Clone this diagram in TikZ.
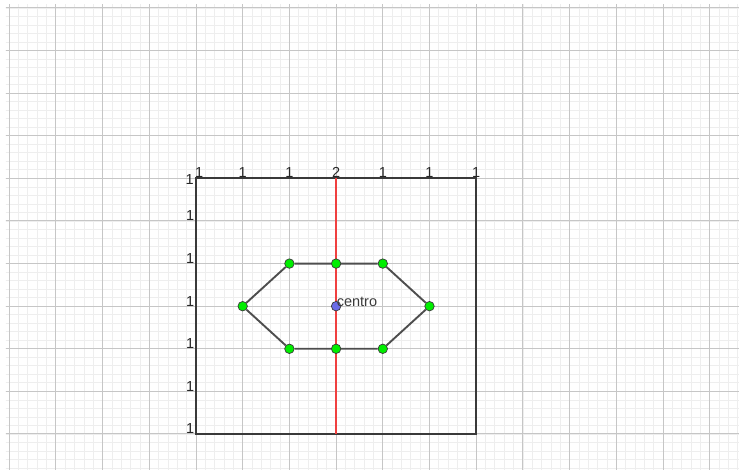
\documentclass[tikz,border=0pt]{standalone}
\usepackage{fontspec}
\setmainfont{Liberation Sans}
\definecolor{gridmajor}{HTML}{C6C6C6}
\definecolor{gridminor}{HTML}{EEEEEE}
\definecolor{edgegray}{HTML}{3A3A3A}
\definecolor{ptgreen}{HTML}{00EE00}
\definecolor{ptblue}{HTML}{6B6BE6}
\definecolor{axisred}{HTML}{F04040}
\begin{document}
\begin{tikzpicture}[x=46.7pt, y=42.6pt,
  minorline/.style={gridminor, line width=0.8pt},
  majorline/.style={gridmajor, line width=1pt},
  boxline/.style={edgegray, line width=2pt},
  symline/.style={axisred, line width=1.6pt},
  hexedge/.style={edgegray!90, line width=1.9pt},
  vertex/.style={circle, draw=edgegray, line width=0.7pt, fill=ptgreen, inner sep=0pt, minimum size=9.5pt},
  midpt/.style={vertex, fill=ptblue},
  ticklabel/.style={font=\fontsize{14.5pt}{16pt}\selectfont, text=black!85, inner sep=0pt}]
 \useasboundingbox (-196pt,-36pt) rectangle (543pt,434pt);
 % grid
 \begin{scope}
  \clip (-190pt,-36pt) rectangle (543pt,429pt);
  \foreach \i in {-21,...,59} \draw[minorline] (\i/5,-1) -- (\i/5,10.2);
  \foreach \j in {-5,...,51} \draw[minorline] (-4.5,\j/5) -- (12,\j/5);
  \foreach \i in {-4,...,11} \draw[majorline] (\i,-1) -- (\i,10.2);
  \foreach \j in {0,...,10} \draw[majorline] (-4.5,\j) -- (12,\j);
 \end{scope}
 % frame and axis
 \coordinate (frameSW) at (0,0);
 \coordinate (frameNE) at (6,6);
 \coordinate (axisS) at (3,0);
 \coordinate (axisN) at (3,6);
 \draw[boxline] (frameSW) rectangle (frameNE);
 \draw[symline] (axisS) -- (axisN);
 % labels
 \foreach \x/\t in {1/1,2/1,3/2,4/1,5/1,6/1}
  \node[ticklabel, anchor=base, yshift=1pt] (top\x) at (\x,6) {\t};
 \node[ticklabel, anchor=base west, xshift=-1pt, yshift=1pt] (top0) at (0,6) {1};
 \foreach \y in {0,...,5}
  \node[ticklabel, anchor=base east, xshift=-1.5pt] (left\y) at (0,\y) {1};
 \node[ticklabel, anchor=base east, xshift=-2pt, yshift=-6pt] (left6) at (0,6) {1};
 % hexagon
 \node[vertex] (v1) at (1,3) {};
 \node[vertex] (v2) at (2,4) {};
 \node[vertex] (v3) at (3,4) {};
 \node[vertex] (v4) at (4,4) {};
 \node[vertex] (v5) at (5,3) {};
 \node[vertex] (v6) at (4,2) {};
 \node[vertex] (v7) at (3,2) {};
 \node[vertex] (v8) at (2,2) {};
 \draw[hexedge] (v1) -- (v2) -- (v3) -- (v4) -- (v5) -- (v6) -- (v7) -- (v8) -- (v1);
 \node[midpt] (centro) at (3,3) {};
 \node[ticklabel, text=edgegray, anchor=base west, xshift=0.5pt] (centrolabel) at (3,3) {centro};
\end{tikzpicture}
\end{document}
